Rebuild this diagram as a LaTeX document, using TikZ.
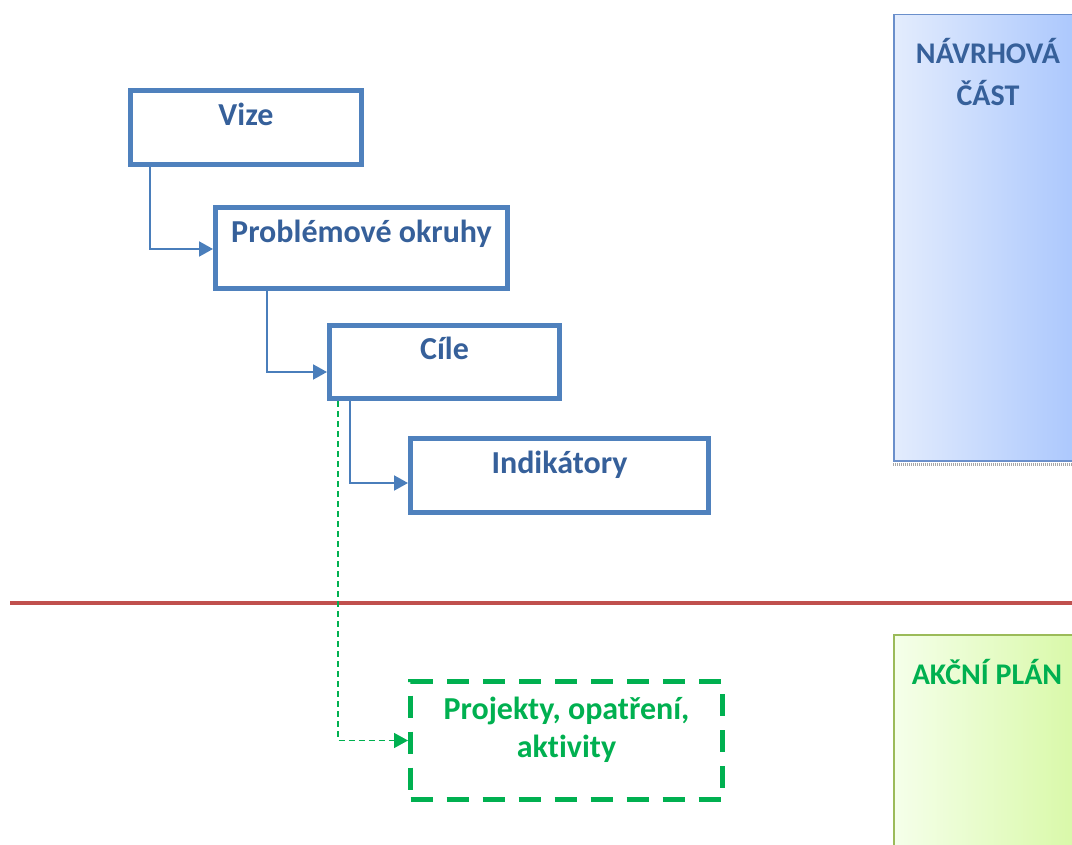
\documentclass[tikz,border=0pt]{standalone}
\usepackage{fontspec}
\setmainfont{Carlito}[Ligatures=NoCommon]
\usetikzlibrary{arrows.meta,calc}
\definecolor{boxblue}{HTML}{4F81BD}
\definecolor{txtblue}{HTML}{36609A}
\definecolor{lnblue}{HTML}{4A7EBB}
\definecolor{grn}{HTML}{00B050}
\definecolor{redl}{HTML}{C0504D}
\definecolor{pbL}{HTML}{E3ECFD}
\definecolor{pbR}{HTML}{A6C4FD}
\definecolor{pbB}{HTML}{6A8FCB}
\definecolor{pgL}{HTML}{F5FFEA}
\definecolor{pgR}{HTML}{D6F8A2}
\definecolor{pgB}{HTML}{9BBB59}
\tikzset{
  stagebox/.style={draw=boxblue, line width=5pt, rectangle, inner sep=0pt},
  greenbox/.style={draw=grn, line width=5pt, rectangle, inner sep=0pt, dash pattern=on 22pt off 14pt},
  btxt/.style={font=\fontsize{32}{38}\selectfont\bfseries, text=txtblue, anchor=base, inner sep=0pt},
  gtxt/.style={font=\fontsize{32}{38}\selectfont\bfseries, text=grn, anchor=base, inner sep=0pt},
  ptxt/.style={font=\fontsize{30}{42}\selectfont\bfseries, anchor=base, inner sep=0pt},
  conn/.style={draw=lnblue, line width=2pt, -{Triangle[length=14pt,width=15pt]}},
  gconn/.style={draw=grn, line width=1.6pt, dash pattern=on 6pt off 4pt, -{Triangle[length=14pt,width=15pt]}},
}
\begin{document}
\begin{tikzpicture}[x=1pt,y=-1pt]
\useasboundingbox (0,0) rectangle (1072,845);
\clip (0,0) rectangle (1072,845);
% panels
\node[rectangle, inner sep=0pt, minimum width=200pt, minimum height=446pt, left color=pbL, right color=pbR, draw=pbB, line width=1.5pt, anchor=north west] (navrh) at (893,14) {};
\draw[gray!70, line width=3pt, dash pattern=on 1pt off 1pt] (navrh.south west) ++(0,3) -- ++(200,0);
\node[ptxt, text=txtblue] (navrhT1) at (988,64) {NÁVRHOVÁ};
\node[ptxt, text=txtblue] (navrhT2) at (988,106) {ČÁST};
\node[rectangle, inner sep=0pt, minimum width=200pt, minimum height=260pt, left color=pgL, right color=pgR, draw=pgB, line width=1.5pt, anchor=north west] (akcni) at (893,634) {};
\node[ptxt, text=grn] (akcniT) at (987,684) {AKČNÍ PLÁN};
% red separator
\coordinate (redA) at (10,603);
\coordinate (redB) at (1072,603);
\draw[redl, line width=3.5pt] (redA) -- (redB);
% boxes
\node[stagebox, minimum width=231pt, minimum height=74pt] (vize) at (246,127.5) {};
\node[btxt] (vizeT) at ([yshift=-37.5pt]vize.north) {Vize};
\node[stagebox, minimum width=292pt, minimum height=81pt] (prob) at (361.5,248) {};
\node[btxt] (probT) at ([yshift=-37.5pt]prob.north) {Problémové okruhy};
\node[stagebox, minimum width=230pt, minimum height=73pt] (cile) at (444.5,362) {};
\node[btxt] (cileT) at ([yshift=-36.5pt]cile.north) {Cíle};
\node[stagebox, minimum width=298pt, minimum height=74pt] (ind) at (559.5,475.5) {};
\node[btxt] (indT) at ([yshift=-37.5pt]ind.north) {Indikátory};
\node[greenbox, minimum width=312pt, minimum height=118pt] (proj) at (566.5,740.5) {};
\node[gtxt] (projT1) at (566.5,719) {Projekty, opatření,};
\node[gtxt] (projT2) at (566.5,757) {aktivity};
% connectors
\draw[conn] ($(vize.south west)+(21.5,0)$) |- ($(prob.west)+(0,1)$);
\draw[conn] ($(prob.south west)+(53.5,0)$) |- ($(cile.west)+(0,10)$);
\draw[conn] ($(cile.south west)+(22.5,0)$) |- ($(ind.west)+(0,7.5)$);
\draw[gconn] ($(cile.south west)+(11,0)$) |- (proj.west);
\end{tikzpicture}
\end{document}
